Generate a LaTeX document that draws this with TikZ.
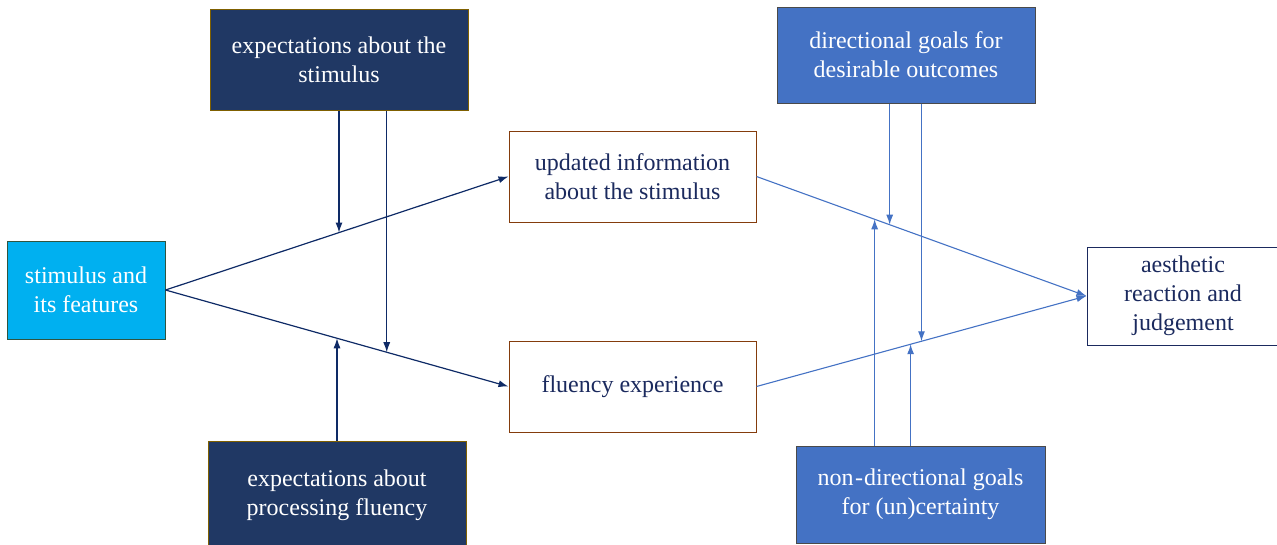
\documentclass[tikz,border=0pt]{standalone}
\usepackage{fontspec}
\setmainfont{Liberation Serif}
\usetikzlibrary{arrows.meta}
\definecolor{navybox}{HTML}{203864}
\definecolor{goldb}{HTML}{7F6000}
\definecolor{cyanbox}{HTML}{00B0F0}
\definecolor{cyanb}{HTML}{2F5540}
\definecolor{brownb}{HTML}{843C0C}
\definecolor{bluebox}{HTML}{4472C4}
\definecolor{greyb}{HTML}{4A4A4A}
\definecolor{navytext}{HTML}{1B2A5E}
\definecolor{darkarr}{HTML}{0E2A66}
\begin{document}
\begin{tikzpicture}[x=1pt,y=1pt,
  box/.style={draw, rectangle, inner sep=0pt, align=center,
    font=\fontsize{24}{29}\selectfont, line width=1pt},
  darkbox/.style={box, fill=navybox, draw=goldb, text=white},
  bluebx/.style={box, fill=bluebox, draw=greyb, text=white},
  whitebox/.style={box, fill=white, text=navytext},
  darr/.style={draw=darkarr, line width=1.2pt, -{Latex[length=10pt,width=7pt]}},
  barr/.style={draw=bluebox, line width=1.1pt, -{Latex[length=10pt,width=7pt]}}]
\useasboundingbox (0,0) rectangle (1277,-544);
\clip (0,0) rectangle (1277,-544);

\node[darkbox, minimum width=258pt, minimum height=101pt] (e1) at (339,-59.5) {expectations about the\\stimulus};
\node[darkbox, minimum width=258pt, minimum height=108pt] (e2) at (337,-495) {expectations about\\processing fluency};
\node[box, fill=cyanbox, draw=cyanb, text=white, minimum width=158pt, minimum height=98pt] (stim) at (86,-290) {stimulus and\\its features};
\node[whitebox, draw=brownb, minimum width=247pt, minimum height=91pt] (upd) at (632.5,-176.5) {updated information\\about the stimulus};
\node[whitebox, draw=brownb, minimum width=247pt, minimum height=91pt] (flu) at (632.5,-386.5) {fluency experience};
\node[bluebx, minimum width=258pt, minimum height=96pt] (dir) at (906,-55) {directional goals for\\desirable outcomes};
\node[bluebx, minimum width=249pt, minimum height=97pt] (nd) at (920.5,-494.5) {non{\kern1.5pt}-{\kern1pt}directional goals\\for (un)certainty};
\node[whitebox, draw=navytext, minimum width=192pt, minimum height=98pt] (aes) at (1183,-296) {aesthetic\\reaction and\\judgement};

% left connectors
\draw[darr] (stim.east) -- coordinate[pos=0.506] (m1) (upd.west);
\draw[darr] (stim.east) -- coordinate[pos=0.645] (m2) coordinate[pos=0.5] (m3) (flu.west);
\draw[darr] (e1.south) -- (e1.south |- m1);
\draw[darr] (m2 |- e1.south) -- (m2);
\draw[darr] (e2.north) -- (e2.north |- m3);

% right connectors
\draw[barr] (upd.east) -- coordinate[pos=0.4036] (r1) coordinate[pos=0.358] (r2) (aes.west);
\draw[barr] (flu.east) -- coordinate[pos=0.5] (r3) coordinate[pos=0.467] (r4) (aes.west);
\draw[barr] (r1 |- dir.south) -- (r1);
\draw[barr] (r3 |- dir.south) -- (r3);
\draw[barr] (r2 |- nd.north) -- (r2);
\draw[barr] (r4 |- nd.north) -- (r4);
\end{tikzpicture}
\end{document}
